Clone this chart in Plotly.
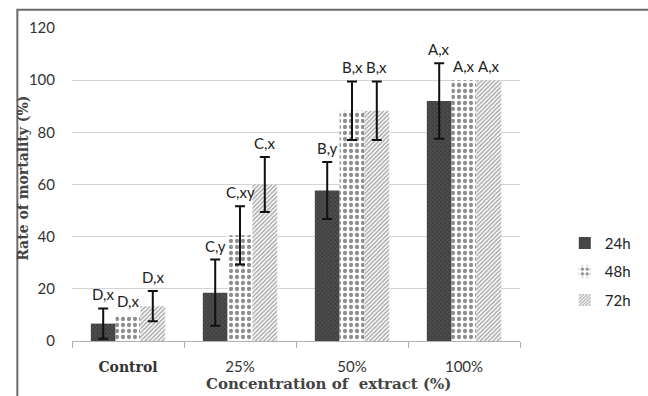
import plotly.graph_objects as go

# Mortality (%) by extract concentration and exposure time
categories = ["Control", "25%", "50%", "100%"]
series_names = ["24h", "48h", "72h"]
mortality_24h = [6.67, 18.5, 57.7, 92.0]
mortality_48h = [10.0, 40.5, 88.3, 100.0]
mortality_72h = [13.33, 60.0, 88.3, 100.0]
sd_24h = [5.8, 12.7, 10.9, 14.5]
sd_48h = [None, 11.2, 11.2, None]
sd_72h = [5.8, 10.5, 11.2, None]
letters_24h = ["D,x", "C,y", "B,y", "A,x"]
letters_48h = ["D,x", "C,xy", "B,x", "A,x"]
letters_72h = ["D,x", "C,x", "B,x", "A,x"]

values = [mortality_24h, mortality_48h, mortality_72h]
errors = [sd_24h, sd_48h, sd_72h]
letters = [letters_24h, letters_48h, letters_72h]

patterns = [
    dict(shape="x", bgcolor="#4e4e4e", fgcolor="#222222", size=3, solidity=0.45),
    dict(shape=".", bgcolor="#ffffff", fgcolor="#1e1e1e", size=6, solidity=0.4),
    dict(shape="/", bgcolor="#ffffff", fgcolor="#555555", size=3, solidity=0.5),
]

SANS = "Lato, 'Open Sans', sans-serif"
SERIF = "'DejaVu Serif', serif"
BARGAP = 0.336

fig = go.Figure()
for k, name in enumerate(series_names):
    # points with a standard deviation get error bars; the rest are drawn plain
    with_err = [i for i, e in enumerate(errors[k]) if e is not None]
    without_err = [i for i, e in enumerate(errors[k]) if e is None]
    marker = dict(color=patterns[k]["bgcolor"], line=dict(width=0),
                  pattern=patterns[k])
    fig.add_trace(go.Bar(
        name=name,
        x=[categories[i] for i in with_err],
        y=[values[k][i] for i in with_err],
        offsetgroup=name, legendgroup=name, showlegend=True,
        marker=marker,
        error_y=dict(type="data", array=[errors[k][i] for i in with_err],
                     visible=True, color="#111111", thickness=2, width=5),
    ))
    if without_err:
        fig.add_trace(go.Bar(
            name=name,
            x=[categories[i] for i in without_err],
            y=[values[k][i] for i in without_err],
            offsetgroup=name, legendgroup=name, showlegend=False,
            marker=marker,
        ))

# Significance letters above each bar / error bar
w = (1 - BARGAP) / len(series_names)
for k in range(len(series_names)):
    for i, cat in enumerate(categories):
        top = values[k][i] + (errors[k][i] or 0)
        fig.add_annotation(
            x=i + (k - 1) * w, y=top, xref="x", yref="y",
            text=letters[k][i], showarrow=False,
            yanchor="bottom", yshift=3,
            font=dict(family=SANS, size=15, color="#222222"),
        )

# Axis titles
fig.add_annotation(
    x=0.573, y=-0.136, xref="paper", yref="paper",
    text="<b>Concentration of&nbsp; extract (%)</b>", showarrow=False,
    xanchor="center", yanchor="middle",
    font=dict(family=SERIF, size=15, color="#444444"),
)
fig.add_annotation(
    x=-0.108, y=0.52, xref="paper", yref="paper",
    text="<b>Rate of mortality (%)</b>", showarrow=False, textangle=-90,
    xanchor="center", yanchor="middle",
    font=dict(family=SERIF, size=14, color="#444444"),
)

# Outer frame of the chart area
fig.add_shape(type="rect", xref="paper", yref="paper",
              x0=-0.122, x1=1.6, y0=-0.4, y1=1.058,
              line=dict(color="#6b6b6b", width=2), layer="below")

tick_text = [
    "<span style='font-family:DejaVu Serif;font-weight:bold;font-size:14px'>Control</span>",
    "25%", "50%", "100%",
]

fig.update_layout(
    width=648, height=396,
    margin=dict(l=72, r=75, t=28, b=55),
    paper_bgcolor="white", plot_bgcolor="white",
    barmode="group", bargap=BARGAP, bargroupgap=0,
    showlegend=True,
    legend=dict(x=1.1, y=0.365, xanchor="left", yanchor="top",
                font=dict(family=SANS, size=15, color="#222222"),
                tracegroupgap=6, itemwidth=30,
                bgcolor="rgba(0,0,0,0)"),
    xaxis=dict(
        tickmode="array", tickvals=categories, ticktext=tick_text,
        tickfont=dict(family=SANS, size=15, color="#333333"),
        showline=True, linecolor="#b0b0b0", linewidth=1,
        ticks="outside", tickson="boundaries", ticklen=6, tickcolor="#b0b0b0",
        showgrid=False, ticklabelstandoff=12,
    ),
    yaxis=dict(
        range=[0, 120], dtick=20,
        tickfont=dict(family=SANS, size=15, color="#333333"),
        showgrid=True, gridcolor="#d4d4d4", gridwidth=1,
        zeroline=False, showline=False, ticks="", ticklabelstandoff=16,
    ),
)

fig.write_html("out.html")
